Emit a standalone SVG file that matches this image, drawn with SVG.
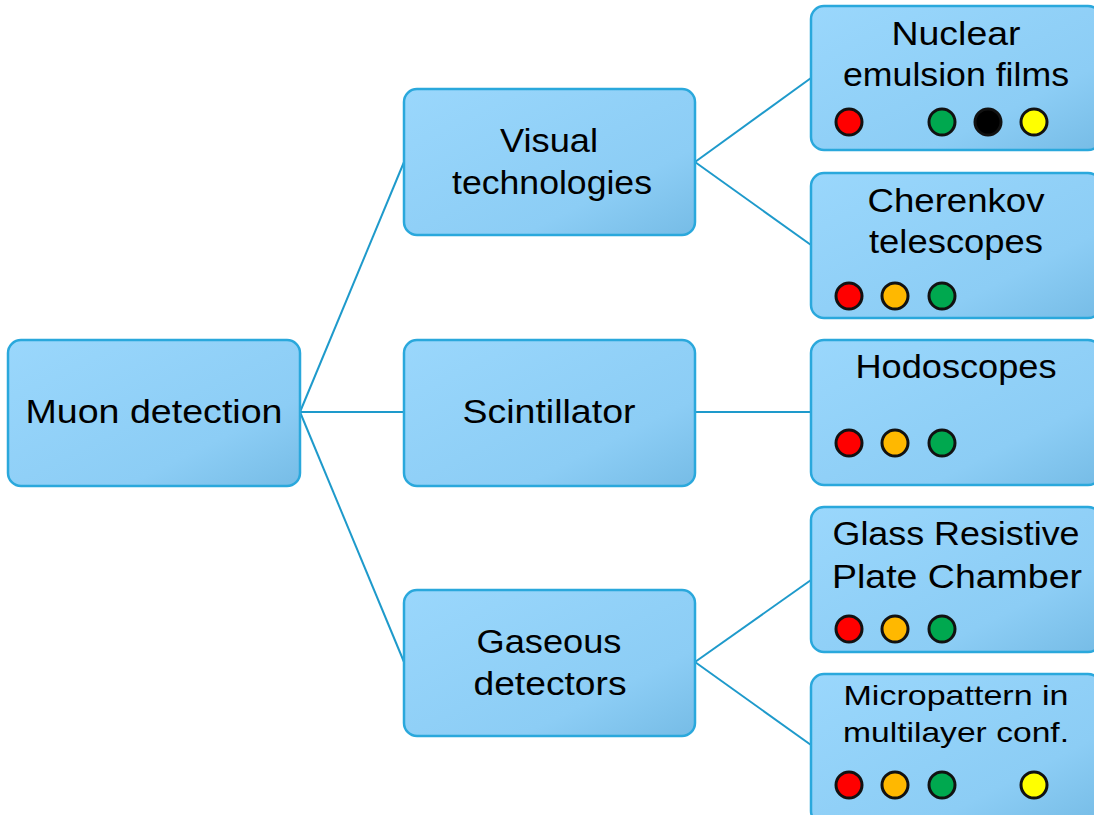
<svg xmlns="http://www.w3.org/2000/svg" width="1094" height="815" viewBox="0 0 1094 815">
<defs>
<linearGradient id="bg" x1="0" y1="0" x2="1" y2="1">
<stop offset="0" stop-color="#9ad7fc"/>
<stop offset="0.7" stop-color="#8ccdf5"/>
<stop offset="1" stop-color="#76bce6"/>
</linearGradient>
<style>
.box{fill:url(#bg);stroke:#2aa8dc;stroke-width:2.5}
.t{font-family:"Liberation Sans",Arial,sans-serif;font-size:33px;fill:#000;text-anchor:middle}
.s{font-size:28px}
.conn line{stroke:#1e9acb;stroke-width:2}
.d{stroke:#111;stroke-width:3}
.r{fill:#ff0000}.o{fill:#ffb800}.g{fill:#00a84f}.k{fill:#000}.y{fill:#ffff00}
</style>
</defs>
<rect width="1094" height="815" fill="#fff"/>
<g class="conn" id="connectors">
<line x1="300" y1="412" x2="404" y2="162"/>
<line x1="300" y1="412" x2="404" y2="412"/>
<line x1="300" y1="412" x2="404" y2="662"/>
<line x1="695" y1="162" x2="811" y2="78"/>
<line x1="695" y1="162" x2="811" y2="245"/>
<line x1="695" y1="412" x2="811" y2="412"/>
<line x1="695" y1="662" x2="811" y2="580"/>
<line x1="695" y1="662" x2="811" y2="745"/>
</g>
<g id="muon">
<rect class="box" x="8" y="340" width="292" height="146" rx="13"/>
<text class="t" x="154" y="423" textLength="257" lengthAdjust="spacingAndGlyphs">Muon detection</text>
</g>
<g id="visual">
<rect class="box" x="404" y="89" width="291" height="146" rx="13"/>
<text class="t" x="549" y="152" textLength="98" lengthAdjust="spacingAndGlyphs">Visual</text>
<text class="t" x="552" y="194" textLength="200" lengthAdjust="spacingAndGlyphs">technologies</text>
</g>
<g id="scint">
<rect class="box" x="404" y="340" width="291" height="146" rx="13"/>
<text class="t" x="549" y="423" textLength="173" lengthAdjust="spacingAndGlyphs">Scintillator</text>
</g>
<g id="gaseous">
<rect class="box" x="404" y="590" width="291" height="146" rx="13"/>
<text class="t" x="549" y="653" textLength="145" lengthAdjust="spacingAndGlyphs">Gaseous</text>
<text class="t" x="550" y="695" textLength="153" lengthAdjust="spacingAndGlyphs">detectors</text>
</g>
<g id="nuclear">
<rect class="box" x="811" y="6" width="290" height="144" rx="13"/>
<text class="t" x="956" y="45" textLength="129" lengthAdjust="spacingAndGlyphs">Nuclear</text>
<text class="t" x="956" y="86" textLength="226" lengthAdjust="spacingAndGlyphs">emulsion films</text>
<circle class="d r" cx="849" cy="122" r="13"/>
<circle class="d g" cx="942" cy="122" r="13"/>
<circle class="d k" cx="988" cy="122" r="13"/>
<circle class="d y" cx="1034" cy="122" r="13"/>
</g>
<g id="cherenkov">
<rect class="box" x="811" y="173" width="290" height="145" rx="13"/>
<text class="t" x="956" y="212" textLength="177" lengthAdjust="spacingAndGlyphs">Cherenkov</text>
<text class="t" x="956" y="253" textLength="174" lengthAdjust="spacingAndGlyphs">telescopes</text>
<circle class="d r" cx="849" cy="296" r="13"/>
<circle class="d o" cx="895" cy="296" r="13"/>
<circle class="d g" cx="942" cy="296" r="13"/>
</g>
<g id="hodo">
<rect class="box" x="811" y="340" width="290" height="145" rx="13"/>
<text class="t" x="956" y="378" textLength="201" lengthAdjust="spacingAndGlyphs">Hodoscopes</text>
<circle class="d r" cx="849" cy="443" r="13"/>
<circle class="d o" cx="895" cy="443" r="13"/>
<circle class="d g" cx="942" cy="443" r="13"/>
</g>
<g id="glass">
<rect class="box" x="811" y="507" width="290" height="145" rx="13"/>
<text class="t" x="956" y="545" textLength="247" lengthAdjust="spacingAndGlyphs">Glass Resistive</text>
<text class="t" x="957" y="588" textLength="250" lengthAdjust="spacingAndGlyphs">Plate Chamber</text>
<circle class="d r" cx="849" cy="629" r="13"/>
<circle class="d o" cx="895" cy="629" r="13"/>
<circle class="d g" cx="942" cy="629" r="13"/>
</g>
<g id="micro">
<rect class="box" x="811" y="674" width="290" height="150" rx="13"/>
<text class="t s" x="956" y="705" textLength="225" lengthAdjust="spacingAndGlyphs">Micropattern in</text>
<text class="t s" x="956" y="742" textLength="226" lengthAdjust="spacingAndGlyphs">multilayer conf.</text>
<circle class="d r" cx="849" cy="785" r="13"/>
<circle class="d o" cx="895" cy="785" r="13"/>
<circle class="d g" cx="942" cy="785" r="13"/>
<circle class="d y" cx="1034" cy="785" r="13"/>
</g>
</svg>
